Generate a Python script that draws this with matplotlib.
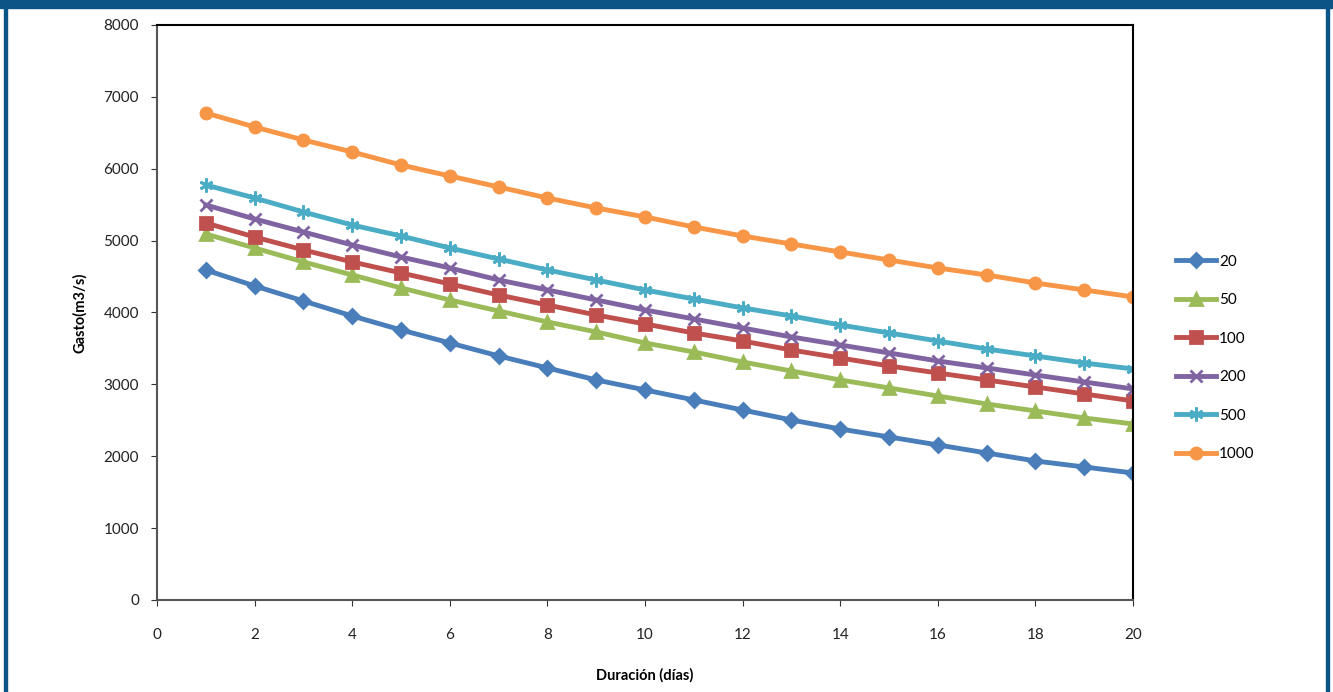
import matplotlib
matplotlib.use("Agg")
import matplotlib.pyplot as plt
from matplotlib.patches import Rectangle

plt.rcParams['font.family'] = ['Lato', 'DejaVu Sans']

# duracion en dias
dias = list(range(1, 21))

# gasto (m3/s) por periodo de retorno
gasto_20 = [4591, 4369, 4160, 3951, 3757, 3576, 3395, 3228, 3061, 2922,
            2783, 2643, 2504, 2379, 2268, 2157, 2045, 1934, 1850, 1767]
gasto_50 = [5092, 4897, 4703, 4522, 4341, 4174, 4021, 3868, 3729, 3576,
            3450, 3311, 3186, 3061, 2950, 2838, 2727, 2630, 2532, 2449]
gasto_100 = [5245, 5050, 4870, 4703, 4550, 4397, 4243, 4104, 3965, 3840,
             3715, 3603, 3478, 3367, 3256, 3158, 3061, 2963, 2866, 2769]
gasto_200 = [5496, 5301, 5120, 4939, 4772, 4619, 4452, 4313, 4174, 4035,
             3910, 3784, 3659, 3548, 3437, 3325, 3228, 3130, 3033, 2936]
gasto_500 = [5774, 5593, 5398, 5217, 5064, 4897, 4744, 4591, 4452, 4313,
             4188, 4063, 3951, 3826, 3715, 3603, 3492, 3395, 3297, 3214]
gasto_1000 = [6776, 6581, 6400, 6233, 6052, 5899, 5746, 5593, 5454, 5329,
              5190, 5064, 4953, 4842, 4730, 4619, 4522, 4410, 4313, 4216]

series = [
    ('20', gasto_20, '#4A7EBB', 'D', 7),
    ('50', gasto_50, '#9BBB59', '^', 8),
    ('100', gasto_100, '#C0504D', 's', 8),
    ('200', gasto_200, '#8064A2', 'x', 9),
    ('500', gasto_500, '#4BACC6', (6, 2, 0), 10),
    ('1000', gasto_1000, '#F79646', 'o', 8),
]

fig = plt.figure(figsize=(13.33, 6.92), dpi=100)
ax = fig.add_axes([0.1178, 0.133, 0.7322, 0.8309])

for nombre, vals, color, mk, ms in series:
    ax.plot(dias, vals, color=color, lw=3.5, marker=mk, markersize=ms,
            markeredgewidth=2, markeredgecolor=color, markerfacecolor=color,
            label=nombre)

ax.set_xlim(0, 20)
ax.set_ylim(0, 8000)
ax.set_xticks(range(0, 21, 2))
ax.set_yticks(range(0, 8001, 1000))
ax.tick_params(direction='out', length=4, labelsize=11, colors='#333333',
               labelcolor='#222222')
ax.tick_params(axis='x', pad=16)
ax.tick_params(axis='y', pad=9)
for s in ax.spines.values():
    s.set_linewidth(1.5)
    s.set_color('black')
ax.spines['bottom'].set_color('#555555')
ax.spines['left'].set_color('#555555')

ax.set_xlabel('Duración (días)', fontsize=10.5, fontweight='bold', labelpad=19)
ax.set_ylabel('Gasto(m3/s)', fontsize=10.5, fontweight='bold', labelpad=12)

ax.legend(loc='center left', bbox_to_anchor=(1.03, 0.421), frameon=False,
          fontsize=11, handlelength=2.6, labelspacing=1.6, handletextpad=0.2)

# marco azul
azul = '#0A5585'
fig.patches.append(Rectangle((0, 1 - 8 / 692), 1, 8 / 692, transform=fig.transFigure,
                             color=azul, zorder=10))
fig.patches.append(Rectangle((4 / 1333, 0), 3 / 1333, 1, transform=fig.transFigure,
                             color=azul, zorder=10))
fig.patches.append(Rectangle((1326 / 1333, 0), 3 / 1333, 1, transform=fig.transFigure,
                             color=azul, zorder=10))

fig.savefig('out.png', dpi=100)
